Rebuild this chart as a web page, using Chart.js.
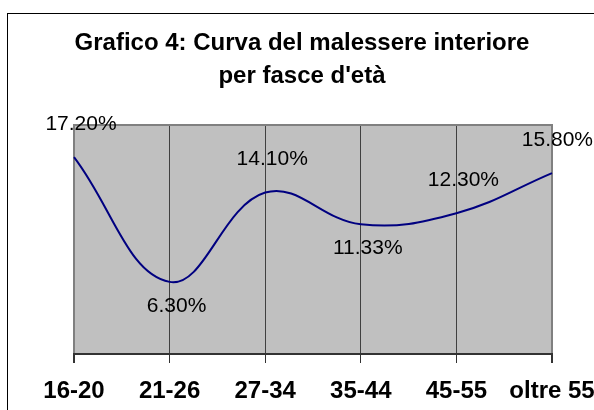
<!DOCTYPE html>
<html>
<head>
<meta charset="utf-8">
<script src="https://cdn.jsdelivr.net/npm/chart.js@4.4.1/dist/chart.umd.min.js"></script>
<style>
  html, body { margin: 0; padding: 0; background: #fff; overflow: hidden; }
  #frame { position: absolute; left: 7px; top: 13px; width: 700px; height: 500px; border: 1px solid #000; }
  #wrap { position: absolute; left: 0; top: 0; width: 594px; height: 410px; }
</style>
</head>
<body>
<div id="frame"></div>
<div id="wrap"><canvas id="malessereChart" width="594" height="410"></canvas></div>
<script>
// dati
const fasceEta = ['16-20', '21-26', '27-34', '35-44', '45-55', 'oltre 55'];
const malessere = [17.20, 6.30, 14.10, 11.33, 12.30, 15.80];
const titoloRighe = ['Grafico 4: Curva del malessere interiore', "per fasce d'età"];

// sfondo grigio dell'area del grafico + bordo superiore
const plotAreaPlugin = {
  id: 'plotArea',
  beforeDraw(chart) {
    const { ctx, chartArea: a } = chart;
    ctx.save();
    ctx.fillStyle = '#c0c0c0';
    ctx.fillRect(a.left, a.top, a.right - a.left, a.bottom - a.top);
    ctx.restore();
  },
  beforeDatasetsDraw(chart) {
    const { ctx, chartArea: a } = chart;
    ctx.save();
    ctx.strokeStyle = '#808080';
    ctx.lineWidth = 2;
    ctx.beginPath();
    ctx.moveTo(a.left - 1, a.top);
    ctx.lineTo(a.right + 1, a.top);
    ctx.stroke();
    ctx.restore();
  }
};

// titolo su due righe
const titlePlugin = {
  id: 'titoloGrafico',
  afterDraw(chart) {
    const ctx = chart.ctx;
    ctx.save();
    ctx.font = 'bold 24px "Liberation Sans", Arial, sans-serif';
    ctx.fillStyle = '#000';
    ctx.textAlign = 'center';
    ctx.textBaseline = 'middle';
    ctx.fillText(titoloRighe[0], 302, 43);
    ctx.fillText(titoloRighe[1], 302, 76);
    ctx.restore();
  }
};

// etichette con le percentuali (sotto ai minimi locali, sopra altrimenti)
const labelsPlugin = {
  id: 'etichette',
  afterDatasetsDraw(chart) {
    const ctx = chart.ctx;
    const meta = chart.getDatasetMeta(0);
    const vals = chart.data.datasets[0].data;
    ctx.save();
    ctx.font = '21px "Liberation Sans", Arial, sans-serif';
    ctx.fillStyle = '#000';
    ctx.textAlign = 'center';
    ctx.textBaseline = 'middle';
    meta.data.forEach((pt, i) => {
      const v = vals[i];
      const prev = i > 0 ? vals[i - 1] : Infinity;
      const next = i < vals.length - 1 ? vals[i + 1] : Infinity;
      const below = v < prev && v < next;
      const txt = v.toFixed(2) + '%';
      const half = ctx.measureText(txt).width / 2;
      let x = pt.x + 7;
      if (x + half > chart.width - 1) x = chart.width - 1 - half;
      const y = below ? pt.y + 24 : pt.y - 33;
      ctx.fillText(txt, x, y);
    });
    ctx.restore();
  }
};

const ctx = document.getElementById('malessereChart').getContext('2d');
new Chart(ctx, {
  type: 'line',
  data: {
    labels: fasceEta,
    datasets: [{
      data: malessere,
      borderColor: '#000080',
      borderWidth: 2,
      pointRadius: 0,
      pointHoverRadius: 0,
      fill: false,
      tension: 0.4
    }]
  },
  options: {
    responsive: false,
    animation: false,
    events: [],
    layout: { padding: { left: 74, right: 42, top: 125, bottom: 0 } },
    plugins: {
      legend: { display: false },
      title: { display: false },
      tooltip: { enabled: false }
    },
    scales: {
      x: {
        offset: false,
        afterFit(scale) {
          // niente spazio extra per le etichette agli estremi, altezza fissa dell'asse
          scale.paddingLeft = 0;
          scale.paddingRight = 0;
          scale.paddingTop = 0;
          scale.paddingBottom = 0;
          scale.height = 56;
        },
        border: { display: true, color: '#333', width: 2 },
        grid: {
          drawOnChartArea: true,
          color: (c) => (c.index === 0 || c.index === fasceEta.length - 1) ? '#808080' : '#404040',
          lineWidth: (c) => (c.index === 0 || c.index === fasceEta.length - 1) ? 2 : 1,
          tickColor: '#333',
          tickLength: 9
        },
        ticks: {
          color: '#000',
          padding: 14,
          maxRotation: 0,
          autoSkip: false,
          font: { family: '"Liberation Sans", Arial, sans-serif', size: 24, weight: 'bold' }
        }
      },
      y: {
        display: false,
        min: 0,
        max: 20
      }
    }
  },
  plugins: [plotAreaPlugin, titlePlugin, labelsPlugin]
});
</script>
</body>
</html>
